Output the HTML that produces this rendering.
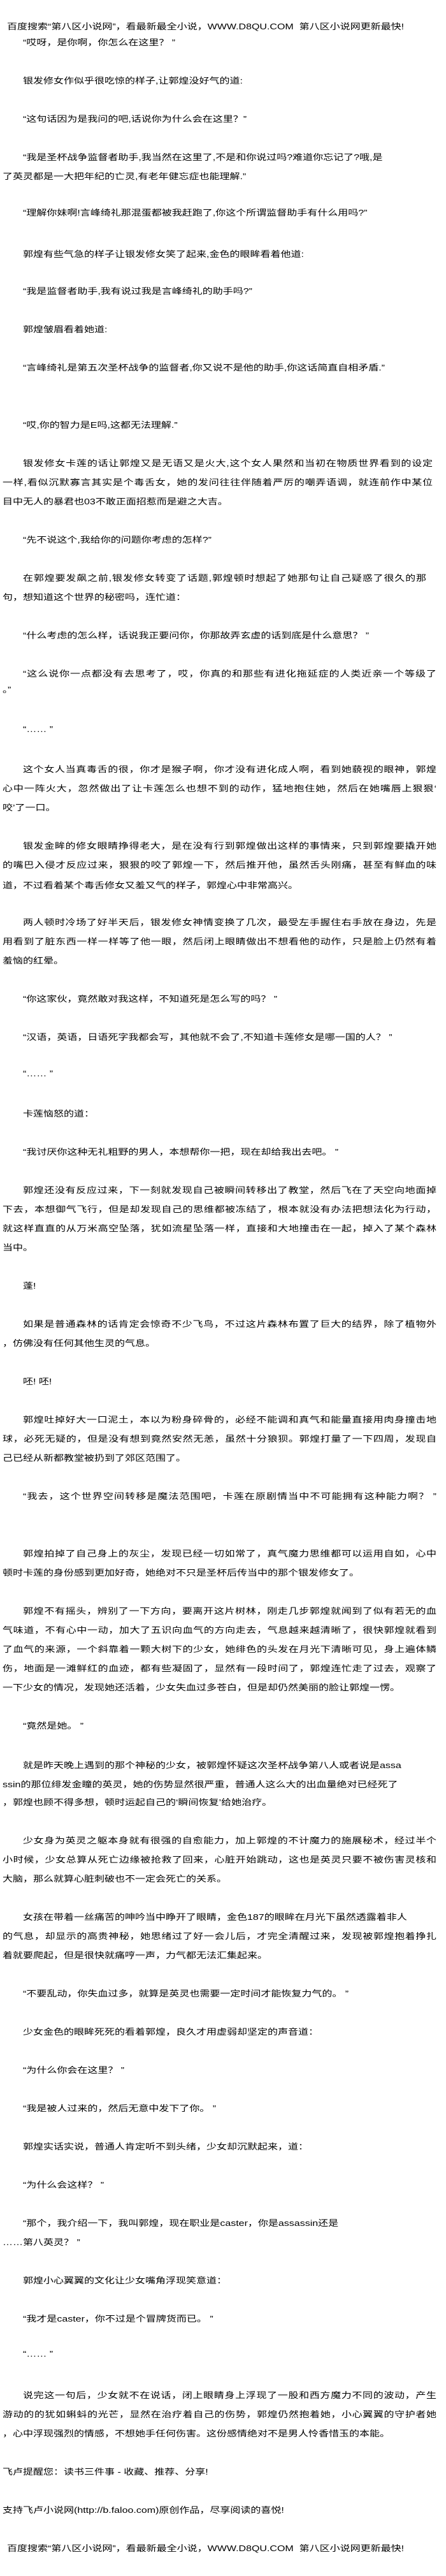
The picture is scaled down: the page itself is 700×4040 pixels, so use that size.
<!DOCTYPE html>
<html><head><meta charset="utf-8"><style>
html,body{margin:0;padding:0;background:#fff;}
body{width:700px;height:4040px;position:relative;overflow:hidden;color:#000;font-family:"Liberation Sans","Noto Sans CJK SC",sans-serif;}
.l{position:absolute;white-space:nowrap;font-size:16px;line-height:16px;transform:scaleY(.8);transform-origin:0 50%;}
.i{left:36px}.n{left:4px}
.ji{left:36px;width:649px;text-align:justify;text-align-last:justify;white-space:normal;height:16px;overflow:visible}
.jn{left:4px;width:681px;text-align:justify;text-align-last:justify;white-space:normal;height:16px;overflow:visible}
</style></head><body>
<div class="l" style="left:11px;top:35px">百度搜索“第八区小说网”，看最新最全小说，WWW.D8QU.COM&nbsp;&nbsp;第八区小说网更新最快!</div>
<div class="l i" style="top:60px">“哎呀，是你啊，你怎么在这里？ ”</div>
<div class="l i" style="top:120px">银发修女作似乎很吃惊的样子,让郭煌没好气的道:</div>
<div class="l i" style="top:180px">“这句话因为是我问的吧,话说你为什么会在这里？”</div>
<div class="l i" style="top:240px">“我是圣杯战争监督者助手,我当然在这里了,不是和你说过吗?难道你忘记了?哦,是</div>
<div class="l n" style="top:270px">了英灵都是一大把年纪的亡灵,有老年健忘症也能理解.”</div>
<div class="l i" style="top:327px">“理解你妹啊!言峰绮礼那混蛋都被我赶跑了,你这个所谓监督助手有什么用吗?”</div>
<div class="l i" style="top:392px">郭煌有些气急的样子让银发修女笑了起来,金色的眼眸看着他道:</div>
<div class="l i" style="top:450px">“我是监督者助手,我有说过我是言峰绮礼的助手吗?”</div>
<div class="l i" style="top:510px">郭煌皱眉看着她道:</div>
<div class="l i" style="top:570px">“言峰绮礼是第五次圣杯战争的监督者,你又说不是他的助手,你这话简直自相矛盾.”</div>
<div class="l i" style="top:660px">“哎,你的智力是E吗,这都无法理解.”</div>
<div class="l ji" style="top:720px;width:643px">银发修女卡莲的话让郭煌又是无语又是火大,这个女人果然和当初在物质世界看到的设定</div>
<div class="l jn" style="top:750px;width:675px">一样,看似沉默寡言其实是个毒舌女，她的发问往往伴随着严厉的嘲弄语调，就连前作中某位</div>
<div class="l n" style="top:780px">目中无人的暴君也03不敢正面招惹而是避之大吉。</div>
<div class="l i" style="top:840px">“先不说这个,我给你的问题你考虑的怎样?”</div>
<div class="l ji" style="top:900px;width:633px">在郭煌要发飙之前,银发修女转变了话题,郭煌顿时想起了她那句让自己疑惑了很久的那</div>
<div class="l n" style="top:930px">句，想知道这个世界的秘密吗，连忙道：</div>
<div class="l i" style="top:990px">“什么考虑的怎么样，话说我正要问你，你那故弄玄虚的话到底是什么意思？ ”</div>
<div class="l ji" style="top:1050px">“这么说你一点都没有去思考了，哎，你真的和那些有进化拖延症的人类近亲一个等级了</div>
<div class="l n" style="top:1075px">。”</div>
<div class="l i" style="top:1137px">“…… ”</div>
<div class="l ji" style="top:1200px">这个女人当真毒舌的很，你才是猴子啊，你才没有进化成人啊，看到她藐视的眼神，郭煌</div>
<div class="l jn" style="top:1230px">心中一阵火大，忽然做出了让卡莲怎么也想不到的动作，猛地抱住她，然后在她嘴唇上狠狠‘</div>
<div class="l n" style="top:1260px">咬’了一口。</div>
<div class="l ji" style="top:1320px">银发金眸的修女眼睛挣得老大，是在没有行到郭煌做出这样的事情来，只到郭煌要撬开她</div>
<div class="l jn" style="top:1350px">的嘴巴入侵才反应过来，狠狠的咬了郭煌一下，然后推开他，虽然舌头刚痛，甚至有鲜血的味</div>
<div class="l n" style="top:1382px">道，不过看着某个毒舌修女又羞又气的样子，郭煌心中非常高兴。</div>
<div class="l ji" style="top:1440px">两人顿时冷场了好半天后，银发修女神情变换了几次，最受左手握住右手放在身边，先是</div>
<div class="l jn" style="top:1470px">用看到了脏东西一样一样等了他一眼，然后闭上眼睛做出不想看他的动作，只是脸上仍然有着</div>
<div class="l n" style="top:1500px">羞恼的红晕。</div>
<div class="l i" style="top:1560px">“你这家伙，竟然敢对我这样，不知道死是怎么写的吗？ ”</div>
<div class="l i" style="top:1620px">“汉语，英语，日语死字我都会写，其他就不会了,不知道卡莲修女是哪一国的人？ ”</div>
<div class="l i" style="top:1677px">“…… ”</div>
<div class="l i" style="top:1740px">卡莲恼怒的道：</div>
<div class="l i" style="top:1800px">“我讨厌你这种无礼粗野的男人，本想帮你一把，现在却给我出去吧。 ”</div>
<div class="l ji" style="top:1860px">郭煌还没有反应过来，下一刻就发现自己被瞬间转移出了教堂，然后飞在了天空向地面掉</div>
<div class="l jn" style="top:1890px">下去，本想御气飞行，但是却发现自己的思维都被冻结了，根本就没有办法把想法化为行动，</div>
<div class="l jn" style="top:1920px">就这样直直的从万米高空坠落，犹如流星坠落一样，直接和大地撞击在一起，掉入了某个森林</div>
<div class="l n" style="top:1950px">当中。</div>
<div class="l i" style="top:2010px">蓬!</div>
<div class="l ji" style="top:2070px">如果是普通森林的话肯定会惊奇不少飞鸟，不过这片森林布置了巨大的结界，除了植物外</div>
<div class="l n" style="top:2100px">，仿佛没有任何其他生灵的气息。</div>
<div class="l i" style="top:2160px">呸! 呸!</div>
<div class="l ji" style="top:2220px">郭煌吐掉好大一口泥土，本以为粉身碎骨的，必经不能调和真气和能量直接用肉身撞击地</div>
<div class="l jn" style="top:2250px">球，必死无疑的，但是没有想到竟然安然无恙，虽然十分狼狈。郭煌打量了一下四周，发现自</div>
<div class="l n" style="top:2280px">己已经从新都教堂被扔到了郊区范围了。</div>
<div class="l ji" style="top:2340px">“我去，这个世界空间转移是魔法范围吧，卡莲在原剧情当中不可能拥有这种能力啊？ ”</div>
<div class="l ji" style="top:2430px">郭煌拍掉了自己身上的灰尘，发现已经一切如常了，真气魔力思维都可以运用自如，心中</div>
<div class="l n" style="top:2460px">顿时卡莲的身份感到更加好奇，她绝对不只是圣杯后传当中的那个银发修女了。</div>
<div class="l ji" style="top:2520px">郭煌不有摇头，辨别了一下方向，要离开这片树林，刚走几步郭煌就闻到了似有若无的血</div>
<div class="l jn" style="top:2550px">气味道，不有心中一动，加大了五识向血气的方向走去，气息越来越清晰了，很快郭煌就看到</div>
<div class="l jn" style="top:2580px">了血气的来源，一个斜靠着一颗大树下的少女，她绯色的头发在月光下清晰可见，身上遍体鳞</div>
<div class="l jn" style="top:2610px">伤，地面是一滩鲜红的血迹，都有些凝固了，显然有一段时间了，郭煌连忙走了过去，观察了</div>
<div class="l n" style="top:2640px">一下少女的情况，发现她还活着，少女失血过多苍白，但是却仍然美丽的脸让郭煌一愣。</div>
<div class="l i" style="top:2700px">“竟然是她。 ”</div>
<div class="l i" style="top:2762px">就是昨天晚上遇到的那个神秘的少女，被郭煌怀疑这次圣杯战争第八人或者说是assa</div>
<div class="l n" style="top:2792px">ssin的那位绯发金瞳的英灵，她的伤势显然很严重，普通人这么大的出血量绝对已经死了</div>
<div class="l n" style="top:2820px">，郭煌也顾不得多想，顿时运起自己的‘瞬间恢复’给她治疗。</div>
<div class="l ji" style="top:2880px">少女身为英灵之躯本身就有很强的自愈能力，加上郭煌的不计魔力的施展秘术，经过半个</div>
<div class="l jn" style="top:2910px">小时候，少女总算从死亡边缘被抢救了回来，心脏开始跳动，这也是英灵只要不被伤害灵核和</div>
<div class="l n" style="top:2940px">大脑，那么就算心脏刺破也不一定会死亡的关系。</div>
<div class="l i" style="top:3000px">女孩在带着一丝痛苦的呻吟当中睁开了眼睛，金色187的眼眸在月光下虽然透露着非人</div>
<div class="l jn" style="top:3030px">的气息，却显示的高贵神秘，她思绪过了好一会儿后，才完全清醒过来，发现被郭煌抱着挣扎</div>
<div class="l n" style="top:3060px">着就要爬起，但是很快就痛哼一声，力气都无法汇集起来。</div>
<div class="l i" style="top:3120px">“不要乱动，你失血过多，就算是英灵也需要一定时间才能恢复力气的。 ”</div>
<div class="l i" style="top:3180px">少女金色的眼眸死死的看着郭煌，良久才用虚弱却坚定的声音道：</div>
<div class="l i" style="top:3240px">“为什么你会在这里？ ”</div>
<div class="l i" style="top:3300px">“我是被人过来的，然后无意中发下了你。 ”</div>
<div class="l i" style="top:3360px">郭煌实话实说，普通人肯定听不到头绪，少女却沉默起来，道：</div>
<div class="l i" style="top:3420px">“为什么会这样？ ”</div>
<div class="l i" style="top:3480px">“那个，我介绍一下，我叫郭煌，现在职业是caster，你是assassin还是</div>
<div class="l n" style="top:3510px">……第八英灵？ ”</div>
<div class="l i" style="top:3570px">郭煌小心翼翼的文化让少女嘴角浮现笑意道：</div>
<div class="l i" style="top:3630px">“我才是caster，你不过是个冒牌货而已。 ”</div>
<div class="l i" style="top:3685px">“…… ”</div>
<div class="l ji" style="top:3750px">说完这一句后，少女就不在说话，闭上眼睛身上浮现了一股和西方魔力不同的波动，产生</div>
<div class="l jn" style="top:3780px">游动的的犹如蝌蚪的光芒，显然在治疗着自己的伤势，郭煌仍然抱着她，小心翼翼的守护者她</div>
<div class="l n" style="top:3810px">，心中浮现强烈的情感，不想她手任何伤害。这份感情绝对不是男人怜香惜玉的本能。</div>
<div class="l n" style="top:3870px">飞卢提醒您：读书三件事 - 收藏、推荐、分享!</div>
<div class="l n" style="top:3930px">支持飞卢小说网(http://b.faloo.com)原创作品，尽享阅读的喜悦!</div>
<div class="l" style="left:11px;top:3990px">百度搜索“第八区小说网”，看最新最全小说，WWW.D8QU.COM&nbsp;&nbsp;第八区小说网更新最快!</div>
</body></html>
